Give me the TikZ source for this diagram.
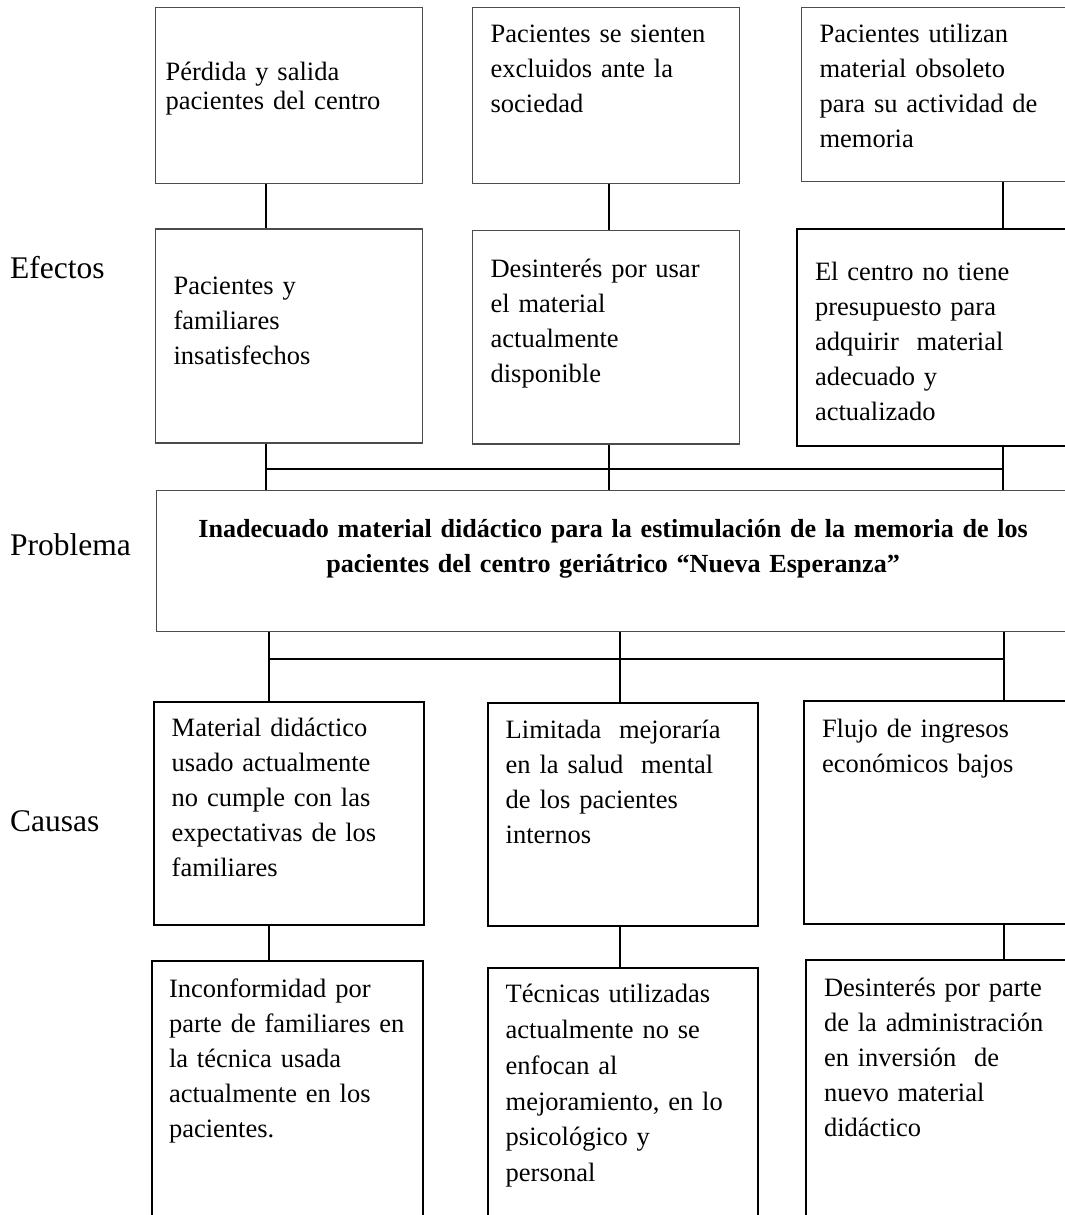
\documentclass[tikz,border=0pt]{standalone}
\usepackage{fontspec}
\setmainfont{Liberation Serif}
\newcommand\fcaja{\fontsize{26.5pt}{35pt}\selectfont}
\newcommand\fetiq{\fontsize{31.5pt}{38pt}\selectfont}
\begin{document}
\begin{tikzpicture}[x=1pt,y=-1pt,
caja/.style={draw=black!70, line width=1.2pt, anchor=north west, align=left,
  inner xsep=18pt, inner ysep=0pt, font=\fcaja},
cajag/.style={caja, draw=black, line width=2pt},
etiq/.style={anchor=base west, inner sep=0pt, font=\fetiq},
enlace/.style={line width=2pt}
]
\useasboundingbox (0,0) rectangle (1065,1215);
\clip (0,0) rectangle (1065,1215);

% efectos
\node[caja, inner xsep=10pt, text width=247pt, text height=73pt, text depth=103.3pt,
  font=\fontsize{26.5pt}{29pt}\selectfont] (e1a) at (155,6.7) {P\'erdida y salida\\pacientes del centro};
\node[caja, text width=231pt, text height=35pt, text depth=141.3pt] (e2a) at (472,6.7)
  {Pacientes se sienten\\excluidos ante la\\sociedad};
\node[caja, text width=234pt, text height=34.4pt, text depth=139pt] (e3a) at (801,7.3)
  {Pacientes utilizan\\material obsoleto\\para su actividad de\\memoria};
\node[caja, text width=231pt, text height=66pt, text depth=148pt] (e1b) at (155,228.3)
  {Pacientes y\\familiares\\insatisfechos};
\node[caja, text width=231pt, text height=47pt, text depth=166.3pt] (e2b) at (472,230)
  {Desinter\'es por usar\\el material\\actualmente\\disponible};
\node[cajag, text width=239pt, text height=51.6pt, text depth=165.2pt] (e3b) at (796,227.7)
  {El centro no tiene\\presupuesto para\\adquirir\ \ material\\adecuado y\\actualizado};

% problema
\node[caja, align=center, inner xsep=0pt, text width=913pt, text height=46.7pt, text depth=94pt,
  font=\fontsize{26.1pt}{35pt}\selectfont\bfseries] (prob) at (156,490)
  {Inadecuado material did\'actico para la estimulaci\'on de la memoria de los\\pacientes del centro geri\'atrico ``Nueva Esperanza''};

% causas
\node[cajag, text width=234pt, text height=35pt, text depth=188.3pt] (c1) at (152.7,700.7)
  {Material did\'actico\\usado actualmente\\no cumple con las\\expectativas de los\\familiares};
\node[cajag, text width=234pt, text height=35.6pt, text depth=187.7pt] (c2) at (486.7,701.7)
  {Limitada\ \ mejorar\'ia\\en la salud\ \ mental\\de los pacientes\\internos};
\node[cajag, text width=234pt, text height=36pt, text depth=187pt] (c3) at (803,700)
  {Flujo de ingresos\\econ\'omicos bajos};
\node[cajag, inner xsep=17pt, text width=237pt, text height=36.7pt, text depth=300pt] (d1) at (151,960)
  {Inconformidad por\\\mbox{parte de familiares en}\\la t\'ecnica usada\\actualmente en los\\pacientes.};
\node[cajag, text width=234pt, text height=35pt, text depth=300pt,
  font=\fontsize{26.5pt}{35.8pt}\selectfont] (d2) at (486.7,966.7)
  {T\'ecnicas utilizadas\\actualmente no se\\enfocan al\\mejoramiento, en lo\\psicol\'ogico y\\personal};
\node[cajag, text width=234pt, text height=36pt, text depth=300pt] (d3) at (805,959)
  {Desinter\'es por parte\\de la administraci\'on\\en inversi\'on\ \ de\\nuevo material\\did\'actico};

\node[etiq] (efectos) at (10,278) {Efectos};
\node[etiq] (problema) at (10,555) {Problema};
\node[etiq] (causas) at (10,831.7) {Causas};

% lineas
\coordinate (k1) at (265.7,469.3);
\coordinate (k2) at (609,469.3);
\coordinate (k3) at (1002.5,469.3);
\coordinate (m1) at (268.7,659.3);
\coordinate (m2) at (620,659.3);
\coordinate (m3) at (1004,659.3);

\draw[enlace] (e1a.south -| k1) -- (e1b.north -| k1);
\draw[enlace] (e2a.south -| k2) -- (e2b.north -| k2);
\draw[enlace] (e3a.south -| k3) -- (e3b.north -| k3);
\draw[enlace] (e1b.south -| k1) -- (prob.north -| k1);
\draw[enlace] (e2b.south -| k2) -- (prob.north -| k2);
\draw[enlace] (e3b.south -| k3) -- (prob.north -| k3);
\draw[enlace] (k1) -- (k3);

\draw[enlace] (prob.south -| m1) -- (c1.north -| m1);
\draw[enlace] (prob.south -| m2) -- (c2.north -| m2);
\draw[enlace] (prob.south -| m3) -- (c3.north -| m3);
\draw[enlace] (m1) -- (m3);
\draw[enlace] (c1.south -| m1) -- (d1.north -| m1);
\draw[enlace] (c2.south -| m2) -- (d2.north -| m2);
\draw[enlace] (c3.south -| m3) -- (d3.north -| m3);

\end{tikzpicture}
\end{document}
